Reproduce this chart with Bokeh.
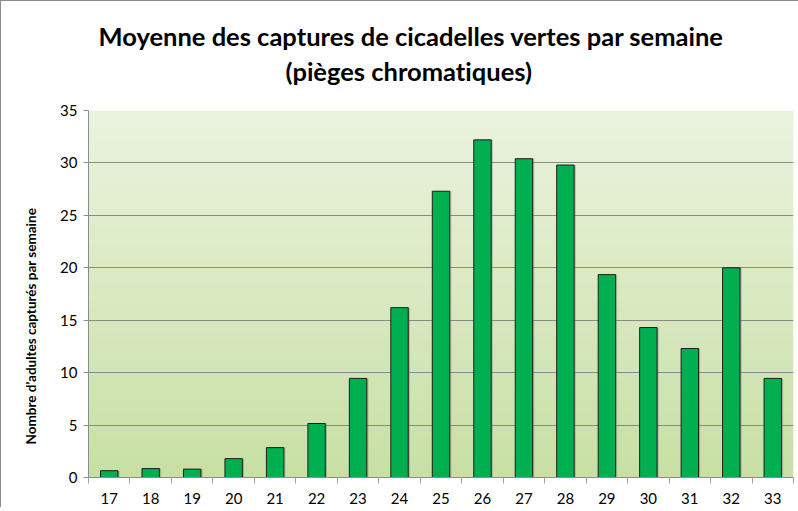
import numpy as np
from bokeh.plotting import figure
from bokeh.models import FixedTicker, Title, Range1d
from bokeh.embed import file_html
from bokeh.resources import INLINE

weeks = [17, 18, 19, 20, 21, 22, 23, 24, 25, 26, 27, 28, 29, 30, 31, 32, 33]
captures = [0.65, 0.85, 0.8, 1.8, 2.85, 5.15, 9.45, 16.2, 27.3, 32.2, 30.4, 29.8, 19.35, 14.3, 12.3, 20.0, 9.45]
y_ticks = [0, 5, 10, 15, 20, 25, 30, 35]
title_1 = "Moyenne des captures de cicadelles vertes par semaine"
title_2 = "(pièges chromatiques)"
y_label = "Nombre d'adultes capturés par semaine"

FONT = "Lato"

x_lo, x_hi = weeks[0] - 0.5, weeks[-1] + 0.5
y_lo, y_hi = y_ticks[0], y_ticks[-1]

p = figure(frame_width=705, frame_height=367, output_backend="svg", toolbar_location=None,
           x_range=Range1d(x_lo, x_hi), y_range=Range1d(y_lo, y_hi),
           min_border_left=86, min_border_right=7, min_border_top=109, min_border_bottom=30)
p.styles = {"border-left": "1px solid #8c8c8c", "border-top": "1px solid #8c8c8c"}

p.add_layout(Title(text=title_2, align="left", text_font=FONT, text_font_size="25.5px",
                   text_font_style="bold", text_color="#000000", standoff=50, offset=197), "above")
p.add_layout(Title(text=title_1, align="left", text_font=FONT, text_font_size="25.5px",
                   text_font_style="bold", text_color="#000000", standoff=-44, offset=10), "above")

# y-axis title, drawn as a side title so it can sit slightly below the frame centre
p.add_layout(Title(text=y_label, align="left", text_font=FONT, text_font_size="13.5px",
                   text_font_style="bold", text_color="#000000", standoff=38, offset=33), "left")

# background gradient of the plot area
top_c = np.array([0xeb, 0xf3, 0xdf])
bot_c = np.array([0xc8, 0xe0, 0xa4])
n = 256
t = np.linspace(0, 1, n)[:, None]
cols = (bot_c * (1 - t) + top_c * t).astype(np.uint32)
img = np.empty((n, 1), dtype=np.uint32)
view = img.view(dtype=np.uint8).reshape((n, 1, 4))
view[:, 0, 0] = cols[:, 0]
view[:, 0, 1] = cols[:, 1]
view[:, 0, 2] = cols[:, 2]
view[:, 0, 3] = 255
p.image_rgba(image=[img], x=x_lo, y=y_lo, dw=x_hi - x_lo, dh=y_hi - y_lo, level="image")

# shadow + bars
p.vbar(x=[w + 0.04 for w in weeks], top=captures, width=0.42, bottom=0,
       fill_color="#7f7f7f", fill_alpha=0.45, line_color=None)
p.vbar(x=weeks, top=captures, width=0.42, bottom=0,
       fill_color="#00b050", line_color="#1e1e1e", line_width=1)

p.background_fill_color = None
p.border_fill_color = "white"
p.outline_line_color = None

p.xgrid.visible = False
p.ygrid.ticker = FixedTicker(ticks=y_ticks)
p.ygrid.grid_line_color = "#8a8a8a"
p.ygrid.grid_line_width = 1

p.yaxis.ticker = FixedTicker(ticks=y_ticks)
p.yaxis.major_label_text_font = FONT
p.yaxis.major_label_text_font_size = "15px"
p.yaxis.major_label_text_color = "#000000"
p.yaxis.major_tick_out = 5
p.yaxis.major_tick_in = 0
p.yaxis.minor_tick_out = 0
p.yaxis.minor_tick_in = 0
p.yaxis.axis_line_color = "#8c8c8c"
p.yaxis.major_tick_line_color = "#8c8c8c"
p.yaxis.major_label_standoff = 6

bounds = [w - 0.5 for w in weeks] + [weeks[-1] + 0.5]
p.xaxis.ticker = FixedTicker(ticks=weeks, minor_ticks=bounds)
p.xaxis.major_label_overrides = {w: str(w) for w in weeks}
p.xaxis.major_tick_out = 0
p.xaxis.major_tick_in = 0
p.xaxis.minor_tick_out = 6
p.xaxis.minor_tick_in = 0
p.xaxis.minor_tick_line_color = "#a0a0a0"
p.xaxis.axis_line_color = "#8c8c8c"
p.xaxis.major_label_text_font = FONT
p.xaxis.major_label_text_font_size = "15px"
p.xaxis.major_label_text_color = "#000000"
p.xaxis.major_label_standoff = 9

html = file_html(p, INLINE)
html = html.replace("</head>", "<style>body{font-variant-ligatures:none;font-feature-settings:'liga' 0;}</style></head>", 1)
open("out.html", "w").write(html)
